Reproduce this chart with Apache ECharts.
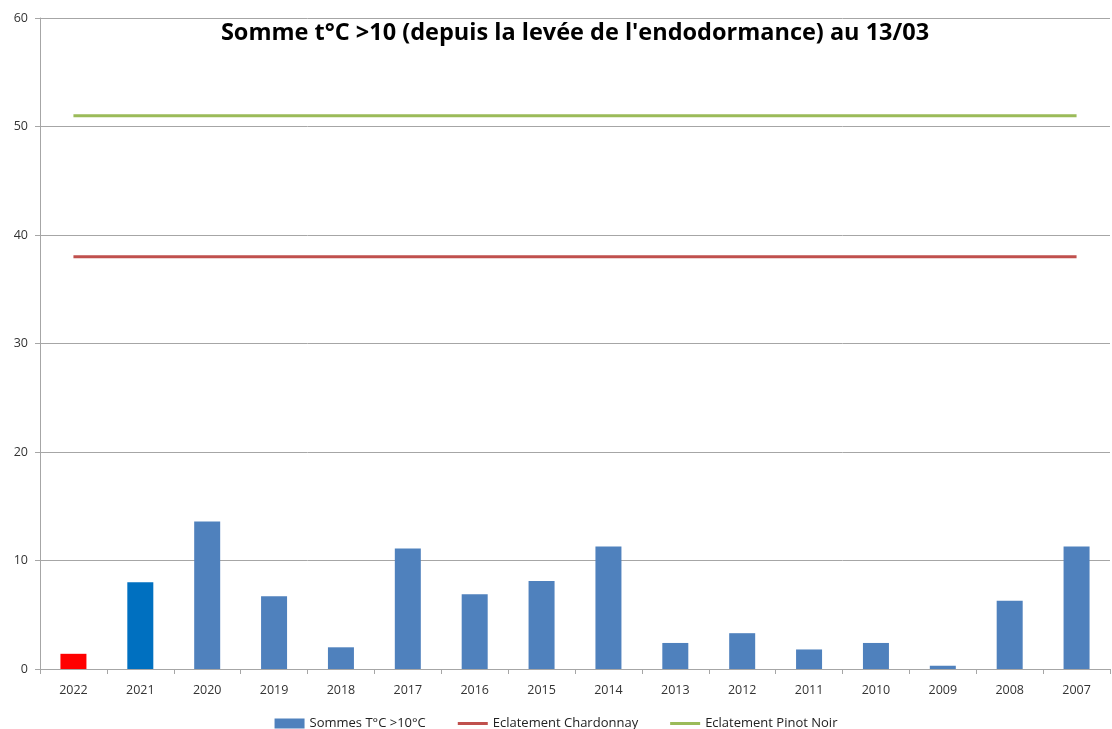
<!DOCTYPE html>
<html>
<head>
<meta charset="utf-8">
<script src="https://cdn.jsdelivr.net/npm/echarts@6/dist/echarts.min.js"></script>
<style>
  html, body { margin: 0; padding: 0; background: #fff; }
  #chart { width: 1112px; height: 729px; }
</style>
</head>
<body>
<div id="chart"></div>
<script>
// annees (de la plus recente a la plus ancienne)
const years = ['2022', '2021', '2020', '2019', '2018', '2017', '2016', '2015', '2014', '2013', '2012', '2011', '2010', '2009', '2008', '2007']
// somme des t°C >10 depuis la levee de l'endodormance
const sommes = [1.4, 8.0, 13.6, 6.7, 2.0, 11.1, 6.9, 8.1, 11.3, 2.4, 3.3, 1.8, 2.4, 0.3, 6.3, 11.3]
// seuils d'eclatement
const seuilChardonnay = 38
const seuilPinotNoir = 51
const yTicks = [0, 10, 20, 30, 40, 50, 60]

const barColor = '#4f81bd'
const specialColors = { '2022': '#ff0000', '2021': '#0070c0' }

const chart = echarts.init(document.getElementById('chart'))

let barData = []
sommes.map((v, i) => {
  let c = specialColors[years[i]]
  barData.push(c ? { value: v, itemStyle: { color: c } } : v)
})

let option = {
  animation: false,
  title: {
    text: "Somme t°C >10 (depuis la levée de l'endodormance) au 13/03",
    left: 570,
    textAlign: 'center',
    top: 16,
    textStyle: {
      fontFamily: 'Open Sans',
      fontSize: 23.5,
      fontWeight: 'bold',
      color: '#000'
    }
  },
  legend: {
    top: 712,
    left: 'center',
    itemGap: 32,
    itemWidth: 30,
    itemHeight: 10,
    textStyle: { fontFamily: 'Open Sans', fontSize: 13, color: '#222' },
    data: [
      { name: 'Sommes T°C >10°C', icon: 'rect', itemStyle: { color: barColor } },
      { name: 'Eclatement Chardonnay', icon: 'path://M0,3.5 L30,3.5 L30,6.5 L0,6.5 Z', itemStyle: { color: '#c0504d' } },
      { name: 'Eclatement Pinot Noir', icon: 'path://M0,3.5 L30,3.5 L30,6.5 L0,6.5 Z', itemStyle: { color: '#9bbb59' } }
    ]
  },
  grid: {
    left: 40,
    right: 2,
    top: 18,
    bottom: 60
  },
  xAxis: [{
    type: 'category',
    data: years,
    axisLine: { lineStyle: { color: '#a6a6a6', width: 1 } },
    axisTick: { show: true, alignWithLabel: false, length: 5, lineStyle: { color: '#a6a6a6' } },
    axisLabel: { fontFamily: 'Open Sans', fontSize: 12.5, color: '#333', margin: 15, interval: 0 }
  }],
  yAxis: [{
    type: 'value',
    min: yTicks[0],
    max: yTicks[yTicks.length - 1],
    interval: 10,
    axisLine: { show: true, lineStyle: { color: '#a6a6a6' } },
    axisTick: { show: true, length: 5, lineStyle: { color: '#a6a6a6' } },
    axisLabel: { fontFamily: 'Open Sans', fontSize: 12.5, color: '#333', margin: 12 },
    splitLine: { lineStyle: { color: '#a6a6a6', width: 1 } }
  }],
  series: [
    {
      name: 'Sommes T°C >10°C',
      type: 'bar',
      barWidth: 26,
      itemStyle: { color: barColor },
      data: barData
    },
    {
      name: 'Eclatement Chardonnay',
      type: 'line',
      symbol: 'none',
      lineStyle: { color: '#c0504d', width: 3 },
      itemStyle: { color: '#c0504d' },
      data: years.map(() => seuilChardonnay)
    },
    {
      name: 'Eclatement Pinot Noir',
      type: 'line',
      symbol: 'none',
      lineStyle: { color: '#9bbb59', width: 3 },
      itemStyle: { color: '#9bbb59' },
      data: years.map(() => seuilPinotNoir)
    }
  ]
}
chart.setOption(option)
</script>
</body>
</html>
